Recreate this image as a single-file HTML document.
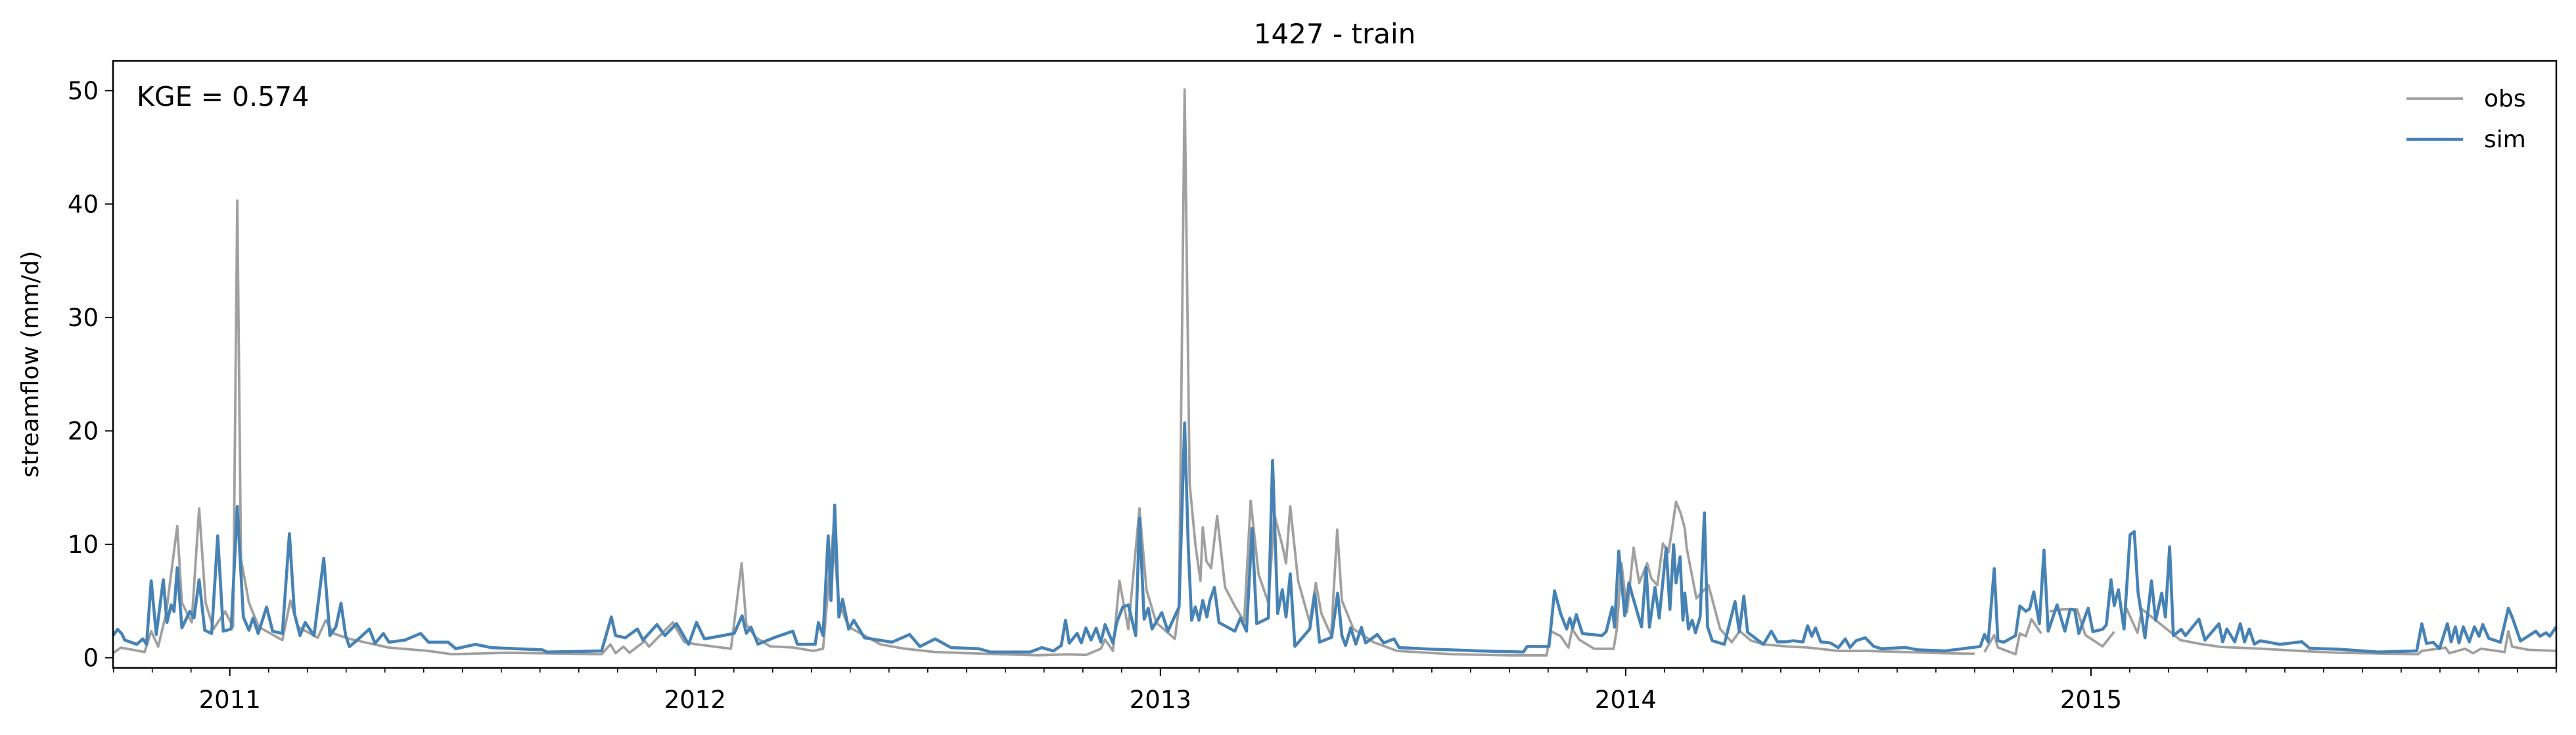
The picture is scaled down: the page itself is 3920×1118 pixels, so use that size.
<!DOCTYPE html>
<html><head><meta charset="utf-8">
<style>
html,body{margin:0;padding:0;background:#fff;}
svg{display:block;}
text{font-family:"DejaVu Sans","Liberation Sans",sans-serif;fill:#000;}
</style></head>
<body>
<svg id="chart" width="3920" height="1118" viewBox="0 0 3920 1118" xmlns="http://www.w3.org/2000/svg">
<text x="2031" y="66" font-size="42" text-anchor="middle">1427 - train</text>
<text transform="translate(58,554) rotate(-90)" font-size="36" text-anchor="middle">streamflow (mm/d)</text>
<g id="plot"></g>
<g id="axes"></g>
<text x="208" y="161" font-size="41">KGE = 0.574</text>
<g>
<line x1="3662" y1="150" x2="3748" y2="150" stroke="#a0a0a0" stroke-width="3.8"/>
<text x="3780" y="162" font-size="36">obs</text>
<line x1="3662" y1="212" x2="3748" y2="212" stroke="#4682b4" stroke-width="4.6"/>
<text x="3780" y="224" font-size="36">sim</text>
</g>
</svg>
<script>
const yTicks=[0,10,20,30,40,50];
const yearTicks=[2011,2012,2013,2014,2015];
const obsT=[2010.749,2010.766,2010.817,2010.831,2010.846,2010.863,2010.887,2010.897,2010.918,2010.934,2010.948,2010.965,2010.990,2011.007,2011.016,2011.024,2011.041,2011.062,2011.113,2011.130,2011.147,2011.189,2011.206,2011.223,2011.257,2011.342,2011.427,2011.477,2011.596,2011.799,2011.818,2011.829,2011.846,2011.859,2011.892,2011.901,2011.952,2011.977,2012.003,2012.077,
2012.100,2012.110,2012.130,2012.161,2012.210,2012.254,2012.275,2012.283,2012.296,2012.309,2012.330,2012.398,2012.450,2012.516,2012.652,2012.737,2012.800,2012.840,2012.872,2012.881,2012.898,2012.912,2012.931,2012.955,2012.970,2012.991,2013.031,2013.040,2013.052,2013.063,2013.075,2013.086,2013.091,2013.099,2013.109,2013.122,2013.139,2013.160,2013.180,2013.194,2013.211,2013.232,2013.245,2013.262,2013.270,2013.279,2013.296,2013.321,2013.334,2013.346,2013.367,2013.380,
2013.390,2013.415,2013.458,2013.509,2013.627,2013.754,2013.830,2013.839,2013.860,2013.877,2013.885,2013.900,2013.932,2013.974,2013.981,2013.991,2014.003,2014.017,2014.029,2014.046,2014.055,2014.068,2014.080,2014.092,2014.100,2014.108,2014.118,2014.127,2014.131,2014.152,2014.178,2014.203,2014.228,2014.245,2014.270,2014.296,2014.347,2014.390,2014.457,2014.520,2014.600,2014.686,2014.750,
2014.751,2014.771,2014.792,2014.800,2014.838,2014.847,2014.860,2014.872,2014.893,2014.900,2014.911,2014.940,2014.970,2014.988,2015.025,2015.050,2015.051,2015.076,2015.100,2015.110,2015.192,2015.237,2015.280,2015.364,2015.448,2015.533,2015.703,2015.711,2015.762,2015.770,2015.804,2015.821,2015.838,2015.889,2015.897,2015.905,2015.940,2016.0];
const obsV=[0.4,0.89,0.5,2.34,0.98,3.88,11.6,4.85,3.11,13.16,4.85,2.53,4.08,2.72,40.3,8.71,4.85,2.72,1.56,5.04,2.72,1.76,3.3,2.14,1.66,0.89,0.6,0.31,0.44,0.31,1.18,0.4,0.98,0.44,1.47,0.98,3.11,1.37,1.18,0.79,
8.33,2.92,1.8,1.0,0.9,0.6,0.8,4.66,10.85,4.85,2.72,1.18,0.8,0.5,0.31,0.22,0.3,0.25,0.8,1.6,0.6,6.78,2.53,13.16,6.0,3.1,1.66,4.5,50.1,15.3,10.07,6.78,11.5,8.5,7.9,12.5,6.2,4.56,3.2,13.84,7.36,4.85,12.6,9.9,8.33,13.35,6.78,3.1,6.6,3.9,1.95,11.3,
5.04,2.53,1.37,0.6,0.31,0.21,0.21,2.34,1.9,0.89,2.53,1.6,0.79,0.79,2.53,8.33,4.0,9.7,6.6,8.33,7.0,6.4,10.07,9.3,11.4,13.74,12.77,11.4,9.7,5.24,6.4,2.53,1.37,2.34,1.5,1.18,0.99,0.9,0.6,0.6,0.5,0.4,0.35,
null,0.5,2.0,0.9,0.31,2.14,1.9,3.4,2.14,null,4.08,4.27,4.27,2.0,1.0,2.3,null,4.37,2.2,4.27,1.56,1.2,0.95,0.8,0.6,0.44,0.31,0.6,0.89,0.4,0.79,0.4,0.79,0.5,2.34,0.98,0.7,0.6];
const simT=[2010.749,2010.759,2010.768,2010.774,2010.800,2010.813,2010.821,2010.831,2010.842,2010.857,2010.865,2010.874,2010.880,2010.887,2010.897,2010.914,2010.923,2010.934,2010.946,2010.961,2010.974,2010.986,2011.003,2011.016,2011.029,2011.041,2011.050,2011.061,2011.079,2011.092,2011.113,2011.128,2011.139,2011.151,2011.162,2011.181,2011.202,2011.215,2011.228,2011.239,2011.249,2011.257,2011.274,2011.300,2011.312,2011.330,2011.342,2011.376,2011.410,2011.427,2011.469,2011.486,2011.528,2011.562,2011.596,2011.672,2011.681,2011.799,2011.820,2011.829,2011.850,2011.876,2011.888,2011.918,2011.935,2011.960,2011.986,2012.003,2012.020,
2012.059,2012.084,2012.101,2012.110,2012.120,2012.135,2012.169,2012.210,2012.220,2012.258,2012.265,2012.275,2012.286,2012.292,2012.300,2012.309,2012.317,2012.330,2012.341,2012.364,2012.423,2012.461,2012.483,2012.516,2012.550,2012.610,2012.635,2012.720,2012.745,2012.770,2012.787,2012.796,2012.804,2012.821,2012.830,2012.840,2012.851,2012.862,2012.872,2012.881,2012.898,2012.906,2012.919,2012.931,2012.947,2012.955,2012.965,2012.974,2012.982,2013.003,2013.016,2013.040,2013.052,2013.060,2013.067,2013.075,2013.083,2013.091,2013.100,2013.106,2013.116,2013.126,2013.160,2013.172,2013.185,2013.197,2013.207,2013.232,2013.241,2013.252,2013.262,2013.270,2013.279,2013.289,2013.321,2013.332,2013.342,2013.368,2013.381,
2013.390,2013.398,2013.409,2013.420,2013.432,2013.441,2013.466,2013.480,2013.502,2013.513,2013.585,2013.686,2013.780,2013.788,2013.835,2013.847,2013.860,2013.873,2013.880,2013.886,2013.894,2013.907,2013.949,2013.958,2013.971,2013.976,2013.985,2013.998,2014.007,2014.015,2014.034,2014.044,2014.051,2014.063,2014.072,2014.087,2014.095,2014.103,2014.108,2014.117,2014.123,2014.127,2014.135,2014.143,2014.150,2014.160,2014.169,2014.176,2014.186,2014.212,2014.235,2014.244,2014.254,2014.262,2014.296,2014.313,2014.326,2014.343,2014.360,2014.381,2014.391,2014.400,2014.408,2014.419,2014.440,2014.457,2014.472,2014.482,2014.495,2014.515,2014.533,2014.550,2014.601,2014.627,2014.686,
2014.762,2014.771,2014.779,2014.792,2014.800,2014.813,2014.838,2014.847,2014.860,2014.868,2014.877,2014.889,2014.899,2014.908,2014.927,2014.944,2014.955,2014.965,2014.974,2014.994,2015.004,2015.025,2015.033,2015.043,2015.050,2015.059,2015.071,2015.084,2015.093,2015.101,2015.116,2015.130,2015.139,2015.152,2015.160,2015.169,2015.177,2015.194,2015.203,2015.232,2015.245,2015.275,2015.283,2015.292,2015.309,2015.321,2015.330,2015.340,2015.351,2015.364,2015.406,2015.453,2015.470,2015.533,2015.618,2015.700,2015.711,2015.721,2015.736,2015.749,2015.766,2015.774,2015.783,2015.791,2015.800,2015.813,2015.824,2015.834,2015.842,2015.855,2015.880,2015.897,2015.906,2015.923,2015.956,2015.965,2015.978,2015.986,2016.0];
const simV=[1.95,2.5,2.1,1.56,1.18,1.66,1.18,6.78,2.05,6.88,3.11,4.66,4.08,7.94,2.63,4.08,3.5,6.88,2.43,2.14,10.74,2.34,2.53,13.35,3.59,2.43,3.5,2.14,4.46,2.34,2.14,10.94,3.88,1.95,3.11,1.95,8.77,1.95,2.72,4.81,1.95,0.98,1.56,2.53,1.27,2.14,1.37,1.56,2.14,1.37,1.37,0.79,1.18,0.89,0.83,0.7,0.5,0.6,3.59,1.95,1.76,2.53,1.56,2.92,1.95,3.01,1.18,3.11,1.66,
1.95,2.15,3.7,2.15,2.7,1.2,1.76,2.34,1.18,1.18,3.1,1.95,10.75,5.04,13.45,3.6,5.14,2.53,3.3,1.76,1.37,2.05,0.99,1.66,0.89,0.79,0.5,0.5,0.89,0.6,1.08,3.3,1.28,2.15,1.3,2.63,1.57,2.6,1.37,2.92,1.28,3.1,4.47,4.66,1.95,12.3,3.4,4.37,2.53,3.98,2.34,4.47,20.7,9.68,3.3,4.47,3.3,5.05,3.6,5.0,6.2,3.1,2.34,3.5,2.34,11.4,3.0,3.5,17.4,3.9,6.0,3.6,7.4,1.0,2.53,5.62,1.37,1.8,5.7,
1.95,1.08,2.63,1.2,2.68,1.3,2.05,1.3,1.66,0.89,0.75,0.6,0.5,0.99,0.99,5.9,3.9,2.53,3.5,2.6,3.8,2.14,1.95,2.3,4.46,2.7,9.4,3.7,6.6,5.4,2.72,7.94,2.7,6.2,3.5,9.68,4.27,9.97,6.6,8.9,3.3,5.7,2.53,3.3,2.2,3.6,12.77,2.72,1.5,1.18,4.95,2.3,5.43,2.24,1.18,2.34,1.4,1.4,1.5,1.4,2.82,1.9,2.63,1.4,1.3,0.89,1.66,0.9,1.5,1.76,1.0,0.79,0.9,0.7,0.6,
0.99,2.05,1.4,7.85,1.5,1.37,1.95,4.56,4.1,4.3,5.8,3.0,9.49,2.34,4.66,2.34,4.27,4.2,2.14,4.37,2.3,2.5,2.9,6.88,4.6,6.0,2.53,10.84,11.13,5.8,1.76,6.78,3.3,5.7,3.6,9.78,1.95,2.5,1.95,3.4,1.56,3.0,1.4,2.53,1.4,3.0,1.4,2.53,1.2,1.5,1.18,1.41,0.83,0.75,0.5,0.6,3.0,1.27,1.35,0.79,3.0,1.4,2.72,1.3,2.72,1.4,2.72,1.9,2.92,1.7,1.37,4.37,3.5,1.47,2.34,1.9,2.2,1.9,2.72];

const X0=172,X1=3890,Y0=92.5,Y1=1016;
const tMin=2010.749,tMax=2016.0,vMin=-0.9,vMax=52.63;
const xs=t=>X0+(t-tMin)/(tMax-tMin)*(X1-X0);
const ys=v=>Y1-(v-vMin)/(vMax-vMin)*(Y1-Y0);
const NS='http://www.w3.org/2000/svg';
const plot=document.getElementById('plot'),axes=document.getElementById('axes');
function mk(tag,attrs,parent){const e=document.createElementNS(NS,tag);for(const k in attrs)e.setAttribute(k,attrs[k]);parent.appendChild(e);return e;}
function pathFor(T,V){let d='',pen=false;for(let i=0;i<T.length;i++){if(V[i]===null){pen=false;continue;}d+=(pen?'L':'M')+xs(T[i]).toFixed(1)+' '+ys(V[i]).toFixed(1);pen=true;}return d;}
const obsPath=mk('path',{d:pathFor(obsT,obsV),fill:'none',stroke:'#a0a0a0','stroke-width':3.8,'stroke-linejoin':'round'},plot);


const simPath=mk('path',{d:pathFor(simT,simV),fill:'none',stroke:'#4682b4','stroke-width':4.6,'stroke-linejoin':'round'},plot);


const frame=mk('rect',{x:X0,y:Y0,width:X1-X0,height:Y1-Y0,fill:'none',stroke:'#000','stroke-width':2.5},axes);


yTicks.forEach(v=>{
  const y=ys(v);
  const tk=mk('line',{x1:X0-12,x2:X0,y1:y,y2:y,stroke:'#000','stroke-width':2},axes);
  
  
  const lb=mk('text',{x:X0-22,y:y+13,'font-size':37,'text-anchor':'end'},axes);
  
  
  lb.textContent=v;
});
for(let y=2010;y<=2015;y++){for(let m=0;m<12;m++){
  const t=y+m/12;if(t<tMin-0.001||t>tMax+0.001)continue;
  if(m===0)continue;
  const x=xs(t);
  const tk=mk('line',{x1:x,x2:x,y1:Y1,y2:Y1+7,stroke:'#000','stroke-width':1.6},axes);
  
  
}}
const endTk=mk('line',{x1:X1,x2:X1,y1:Y1,y2:Y1+7,stroke:'#000','stroke-width':1.6},axes);


yearTicks.forEach(yr=>{
  const x=xs(yr);
  const tk=mk('line',{x1:x,x2:x,y1:Y1,y2:Y1+12,stroke:'#000','stroke-width':2},axes);
  
  
  const lb=mk('text',{x:x,y:1077,'font-size':37,'text-anchor':'middle'},axes);
  
  
  lb.textContent=yr;
});
</script>
</body></html>
